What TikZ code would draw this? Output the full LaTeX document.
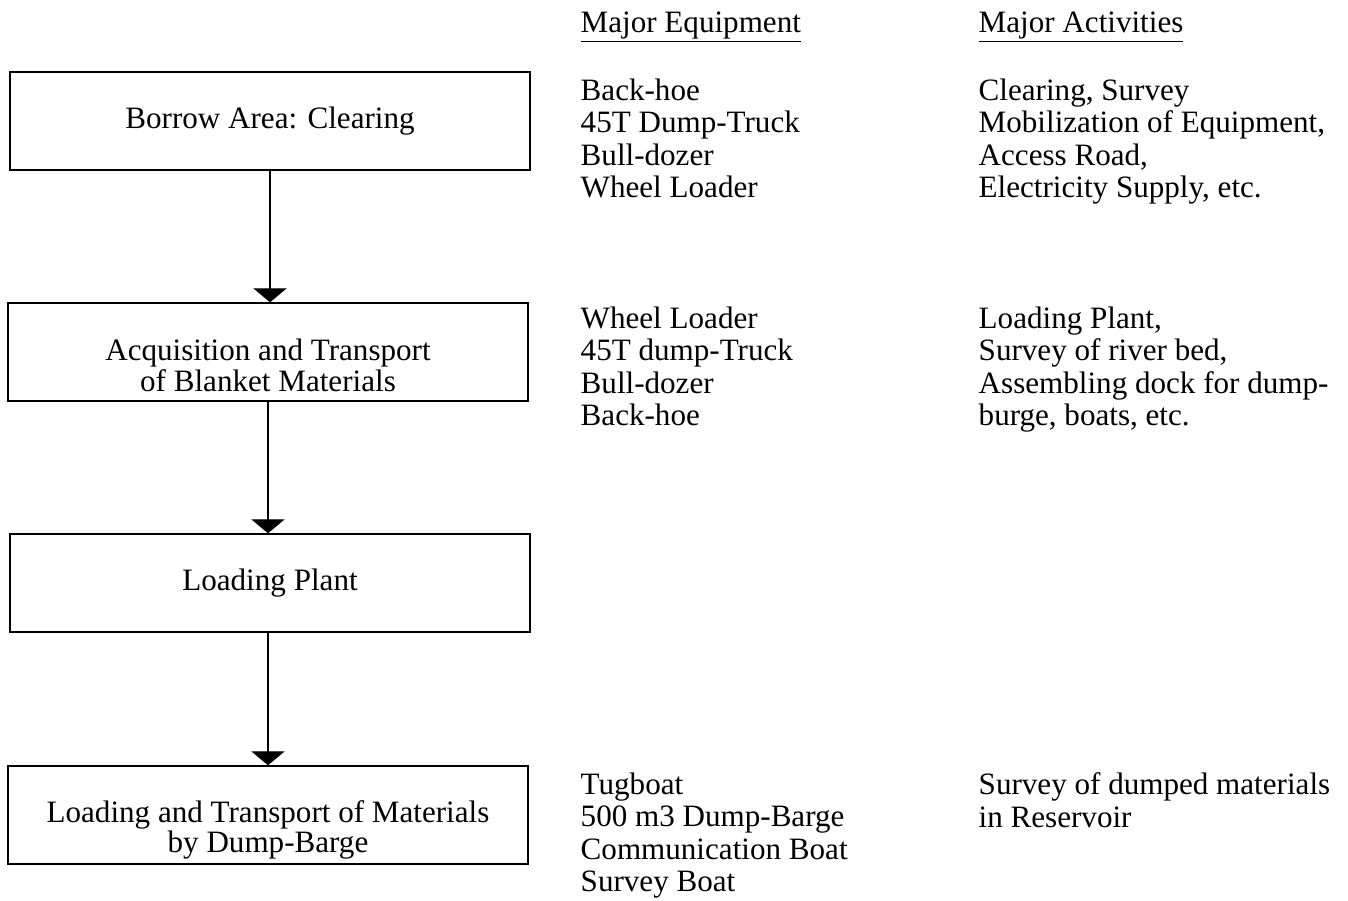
\documentclass[tikz,border=0pt]{standalone}
\usepackage{fontspec}
\setmainfont{Liberation Serif}
\usetikzlibrary{arrows.meta}
\begin{document}
\begin{tikzpicture}[x=0.02cm,y=-0.02cm,line width=0.8pt,
stage/.style={draw,rectangle,inner sep=0pt,minimum width=10.4cm,minimum height=1.96cm,line width=0.8pt,font=\fontsize{17.7}{17.5}\selectfont},
stagetext/.style={align=center,inner sep=0pt,font=\fontsize{17.7}{17.5}\selectfont},
heading/.style={anchor=base west,inner sep=0pt,font=\fontsize{17.7}{18.5}\selectfont},
itemlist/.style={align=left,anchor=north west,inner sep=0pt,font=\fontsize{17.7}{18.5}\selectfont},
flow/.style={-{Triangle[width=19pt,length=8pt]},line width=0.8pt}]

\useasboundingbox (0,0) rectangle (1348,900);

\draw (270,121) node[stage] (borrow) {Borrow Area: Clearing};
\draw (268,352) node[stage] (acq) {};
\draw (268,365) node[stagetext] (acqtxt) {Acquisition and Transport\\of Blanket Materials};
\draw (270,583) node[stage] (plant) {Loading Plant};
\draw (268,815) node[stage] (barge) {};
\draw (268,830) node[stagetext] (bargetxt) {Loading and Transport of Materials\\by Dump-Barge};

\draw (580,32) node[heading] (equiphead) {\underline{Major Equipment}};
\draw (978,32) node[heading] (acthead) {\underline{Major Activities}};

\draw (580,78) node[itemlist] (equip1) {Back-hoe\\45T Dump-Truck\\Bull-dozer\\Wheel Loader};
\draw (978,78) node[itemlist] (act1) {Clearing, Survey\\Mobilization of Equipment,\\Access Road,\\Electricity Supply, etc.};
\draw (580,306) node[itemlist] (equip2) {Wheel Loader\\45T dump-Truck\\Bull-dozer\\Back-hoe};
\draw (978,306) node[itemlist] (act2) {Loading Plant,\\Survey of river bed,\\Assembling dock for dump-\\burge, boats, etc.};
\draw (580,772) node[itemlist] (equip4) {Tugboat\\500 m3 Dump-Barge\\Communication Boat\\Survey Boat};
\draw (978,772) node[itemlist] (act4) {Survey of dumped materials\\in Reservoir};

\draw[flow] (borrow.south) -- (borrow.south |- acq.north);
\draw[flow] (acq.south) -- (acq.south |- plant.north);
\draw[flow] (plant.south -| barge.north) -- (barge.north);
\end{tikzpicture}
\end{document}
